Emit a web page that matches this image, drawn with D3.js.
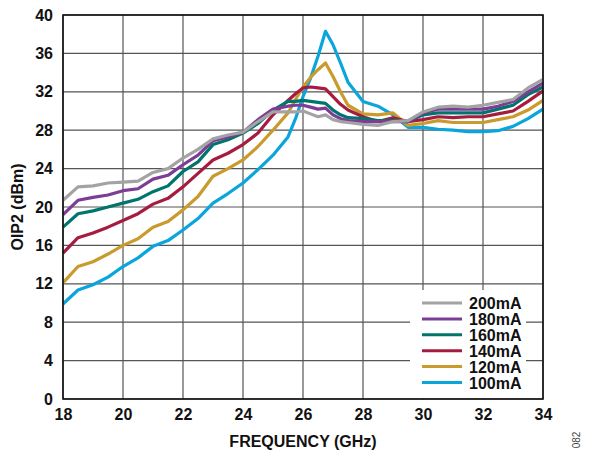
<!DOCTYPE html>
<html><head><meta charset="utf-8">
<script src="https://cdn.jsdelivr.net/npm/d3@7"></script>
<style>body{margin:0;background:#fff}svg{display:block;font-family:"Liberation Sans",Arial,sans-serif}</style>
</head><body><svg id="c" width="591" height="454"></svg>
<script>
const freq = [18,18.5,19,19.5,20,20.5,21,21.5,22,22.5,23,23.5,24,24.5,25,25.5,25.75,26,26.25,26.5,26.75,27,27.25,27.5,28,28.5,29,29.5,30,30.5,31,31.5,32,32.5,33,33.5,34];
const s200 = [20.7,22.1,22.2,22.5,22.6,22.7,23.6,24.0,25.1,26.0,27.1,27.5,27.8,28.9,29.9,29.9,29.9,30.0,29.7,29.4,29.6,29.1,28.9,28.8,28.6,28.5,28.9,29.0,29.9,30.4,30.5,30.4,30.6,30.9,31.2,32.4,33.3];
const s180 = [19.2,20.7,21.0,21.25,21.7,21.9,22.9,23.3,24.4,25.4,26.9,27.3,27.8,29.1,30.2,30.5,30.6,30.6,30.4,30.2,30.3,29.6,29.2,29.0,28.9,28.9,28.9,28.9,29.8,30.2,30.2,30.2,30.2,30.5,31.0,32.0,32.9];
const s160 = [17.9,19.3,19.6,20.0,20.4,20.8,21.6,22.2,23.7,24.7,26.5,27.0,27.7,28.7,30.1,31.0,31.0,31.1,31.0,30.9,30.8,30.1,29.6,29.3,29.2,29.0,29.0,28.9,29.6,29.8,29.8,29.8,29.8,30.2,30.6,31.7,32.5];
const s140 = [15.2,16.8,17.3,17.9,18.6,19.3,20.3,20.9,22.1,23.5,24.9,25.6,26.5,27.7,29.6,31.1,31.8,32.4,32.5,32.4,32.3,31.5,30.7,30.1,29.4,28.9,29.3,28.9,29.1,29.4,29.3,29.4,29.4,29.7,30.0,31.0,32.1];
const s120 = [12.1,13.8,14.3,15.1,16.0,16.7,17.9,18.5,19.7,21.1,23.2,24.0,24.9,26.3,28.0,29.8,31.2,32.5,33.5,34.3,35.0,33.6,32.0,30.6,29.7,29.6,29.8,28.5,28.7,29.0,28.8,28.8,28.8,29.1,29.4,30.1,31.1];
const s100 = [9.9,11.35,11.9,12.7,13.8,14.7,15.9,16.5,17.6,18.8,20.4,21.4,22.5,23.9,25.4,27.3,29.2,31.5,33.4,35.7,38.3,36.9,35.0,33.0,31.0,30.5,29.6,28.3,28.3,28.1,28.0,27.85,27.85,27.95,28.4,29.2,30.2];
const seriesNames = ["200mA","180mA","160mA","140mA","120mA","100mA"];
const seriesData = [s200,s180,s160,s140,s120,s100];
const seriesColors = ["#a3a3a3","#7d3c95","#00756b","#a51c40","#c99a2c","#0aa5db"];
const xTicks = [18,20,22,24,26,28,30,32,34];
const yTicks = [0,4,8,12,16,20,24,28,32,36,40];

const svg = d3.select("#c");
const L=63,R=543,T=15,B=399;
const x = d3.scaleLinear().domain([18,34]).range([L,R]);
const y = d3.scaleLinear().domain([0,40]).range([B,T]);

// grid
const g = svg.append("g");
g.selectAll(".vg").data(xTicks).join("line")
  .attr("x1",d=>x(d)).attr("x2",d=>x(d)).attr("y1",T).attr("y2",B)
  .attr("stroke","#555").attr("stroke-width",1.2);
g.selectAll(".hg").data(yTicks).join("line")
  .attr("x1",L).attr("x2",R).attr("y1",d=>y(d)).attr("y2",d=>y(d))
  .attr("stroke","#555").attr("stroke-width",1.2);

// legend background
svg.append("rect").attr("x",410).attr("y",290).attr("width",116).attr("height",108).attr("fill","#fff");

// lines
const line = d3.line().x((d,i)=>x(freq[i])).y(d=>y(d));
seriesData.slice().reverse().forEach((s,k)=>{
  const i = seriesData.length-1-k;
  svg.append("path").attr("d",line(s)).attr("fill","none")
    .attr("stroke",seriesColors[i]).attr("stroke-width",3.2).attr("stroke-linejoin","round");
});

// frame
svg.append("rect").attr("x",L).attr("y",T).attr("width",R-L).attr("height",B-T)
  .attr("fill","none").attr("stroke","#111").attr("stroke-width",1.6);

const FS = 16;
// axes labels
const xa = svg.append("g").attr("transform",`translate(0,${B})`)
  .call(d3.axisBottom(x).tickValues(xTicks).tickSize(0).tickPadding(10).tickFormat(d3.format("d")));
xa.select(".domain").remove();
xa.selectAll("text").attr("font-size",FS).attr("font-weight","bold").attr("fill","#111")
  .attr("font-family","Liberation Sans, Arial, sans-serif");
const ya = svg.append("g").attr("transform",`translate(${L},0)`)
  .call(d3.axisLeft(y).tickValues(yTicks).tickSize(0).tickPadding(10).tickFormat(d3.format("d")));
ya.select(".domain").remove();
ya.selectAll("text").attr("font-size",FS).attr("font-weight","bold").attr("fill","#111")
  .attr("font-family","Liberation Sans, Arial, sans-serif");

svg.append("text").attr("x",303).attr("y",447).attr("text-anchor","middle")
  .attr("font-size",FS).attr("font-weight","bold").attr("fill","#111").text("FREQUENCY (GHz)");
svg.append("text").attr("transform","translate(23,207) rotate(-90)").attr("text-anchor","middle")
  .attr("font-size",FS).attr("font-weight","bold").attr("fill","#111").text("OIP2 (dBm)");
svg.append("text").attr("transform","translate(580,440) rotate(-90)").attr("text-anchor","middle")
  .attr("font-size",10).attr("fill","#444").text("082");

// legend
const lg = svg.append("g");
seriesNames.forEach((n,i)=>{
  const yy = 303 + i*15.9;
  lg.append("line").attr("x1",422).attr("x2",462).attr("y1",yy).attr("y2",yy)
    .attr("stroke",seriesColors[i]).attr("stroke-width",3);
  lg.append("text").attr("x",469).attr("y",yy+6).attr("font-size",FS).attr("font-weight","bold")
    .attr("fill","#111").text(n);
});
</script></body></html>
